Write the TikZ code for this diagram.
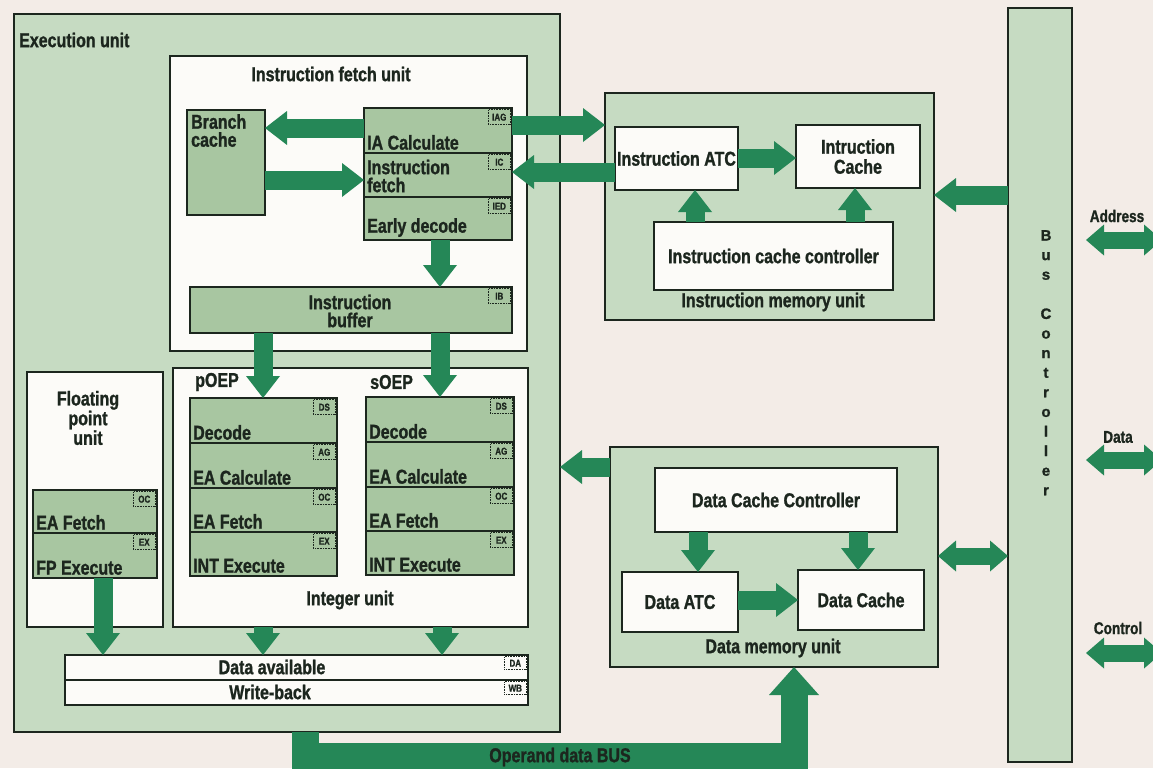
\documentclass[tikz,border=0pt]{standalone}
\usepackage{fontspec}
\setmainfont{Liberation Sans}[FakeStretch=0.8, BoldFeatures={FakeBold=1.2}]
\newfontfamily\busfont{Liberation Sans}[BoldFeatures={FakeBold=1.2}]
\usetikzlibrary{arrows.meta,calc}
\definecolor{bg}{HTML}{F3ECE7}
\definecolor{lg}{HTML}{C6DBC2}
\definecolor{mg}{HTML}{A8C6A1}
\definecolor{wh}{HTML}{FCFBF8}
\definecolor{dg}{HTML}{258757}
\definecolor{bd}{HTML}{1C261E}
\tikzset{
  box/.style={draw=bd, line width=2.7pt, anchor=north west, inner sep=0pt, outer sep=0pt},
  panel/.style={box, fill=lg},
  wbox/.style={box, fill=wh},
  row/.style={box, fill=mg},
  txt/.style={font=\fontsize{20}{18}\selectfont\bfseries, text=bd, inner sep=0pt},
  smalltxt/.style={font=\fontsize{17}{15}\selectfont\bfseries, text=bd, inner sep=0pt},
  rowtxt/.style={txt, anchor=south west, xshift=3pt, yshift=3pt, align=left},
  tag/.style={font=\fontsize{10}{10}\selectfont\bfseries, text=bd, draw=bd, densely dotted, line width=0.6pt, anchor=north east, inner sep=1.5pt, minimum width=22pt, minimum height=15pt, xshift=-1.4pt, yshift=-1.4pt},
  fat/.style={draw=dg, line width=19pt, -{Triangle[width=34pt,length=22pt,line width=0pt]}},
  dfat/.style={draw=dg, line width=17pt, {Triangle[width=31pt,length=18pt,line width=0pt]}-{Triangle[width=31pt,length=18pt,line width=0pt]}},
  busarrow/.style={draw=dg, line width=27pt, line join=miter, -{Triangle[width=50pt,length=28pt,line width=0pt]}},
}
\begin{document}
\begin{tikzpicture}[x=1pt,y=-1pt]
\useasboundingbox (0,0) rectangle (1153,768);
\fill[bg] (0,0) rectangle (1153,768);
\clip (0,0) rectangle (1153,768);

% ---------- Execution unit ----------
\node[panel, minimum width=546pt, minimum height=718pt] (eu) at (14,14) {};
\node[txt, anchor=west] (eul) at (19,40) {Execution unit};

% Instruction fetch unit
\node[wbox, minimum width=357pt, minimum height=295pt] (ifu) at (170,56) {};
\node[txt] (ifut) at (331,74) {Instruction fetch unit};
\node[row, minimum width=78pt, minimum height=105pt] (bc) at (187,110) {};
\node[txt, anchor=north west, align=left] (bct) at (191,114) {Branch\\cache};
\node[row, minimum width=148pt, minimum height=45pt, label={[tag]north east:IAG}, label={[rowtxt]south west:IA Calculate}] (ia) at (364,108) {};
\node[row, minimum width=148pt, minimum height=44pt, label={[tag]north east:IC}] (ifr) at (364,153) {};
\node[txt, anchor=west, align=left] (ifrt) at ([xshift=3pt,yshift=-1pt]ifr.west) {Instruction\\fetch};
\node[row, minimum width=148pt, minimum height=43pt, label={[tag]north east:IED}, label={[rowtxt]south west:Early decode}] (ed) at (364,197) {};
\node[row, minimum width=322pt, minimum height=46pt, label={[tag]north east:IB}] (ib) at (190,287) {};
\node[txt, align=center] (ibt) at (350,311) {Instruction\\buffer};

% Floating point unit
\node[wbox, minimum width=136pt, minimum height=255pt] (fpu) at (27,372) {};
\node[txt, align=center] (fput) at (88,418) {Floating\\point\\unit};
\node[row, minimum width=124pt, minimum height=43pt, label={[tag]north east:OC}, label={[rowtxt]south west:EA Fetch}] (fpf) at (33,490) {};
\node[row, minimum width=124pt, minimum height=45pt, label={[tag]north east:EX}, label={[rowtxt]south west:FP Execute}] (fpx) at (33,533) {};

% Integer unit
\node[wbox, minimum width=355pt, minimum height=259pt] (iu) at (173,368) {};
\node[txt, anchor=west] (poep) at (195,382) {pOEP};
\node[txt, anchor=west] (soep) at (370,382) {sOEP};
\node[txt] (iut) at (350,600) {Integer unit};
\node[row, minimum width=147pt, minimum height=45pt, label={[tag]north east:DS}, label={[rowtxt]south west:Decode}] (pd) at (190,398) {};
\node[row, minimum width=147pt, minimum height=45pt, label={[tag]north east:AG}, label={[rowtxt]south west:EA Calculate}] (pa) at (190,443) {};
\node[row, minimum width=147pt, minimum height=44pt, label={[tag]north east:OC}, label={[rowtxt]south west:EA Fetch}] (pf) at (190,488) {};
\node[row, minimum width=147pt, minimum height=44pt, label={[tag]north east:EX}, label={[rowtxt]south west:INT Execute}] (px) at (190,532) {};
\node[row, minimum width=148pt, minimum height=45pt, label={[tag]north east:DS}, label={[rowtxt]south west:Decode}] (sd) at (366,397) {};
\node[row, minimum width=148pt, minimum height=45pt, label={[tag]north east:AG}, label={[rowtxt]south west:EA Calculate}] (sa) at (366,442) {};
\node[row, minimum width=148pt, minimum height=44pt, label={[tag]north east:OC}, label={[rowtxt]south west:EA Fetch}] (sf) at (366,487) {};
\node[row, minimum width=148pt, minimum height=44pt, label={[tag]north east:EX}, label={[rowtxt]south west:INT Execute}] (sx) at (366,531) {};

% Data available / Write-back
\node[wbox, minimum width=463pt, minimum height=25pt, label={[tag, minimum height=13pt]north east:DA}] (da) at (65,655) {};
\node[wbox, minimum width=463pt, minimum height=25pt, label={[tag, minimum height=13pt]north east:WB}] (wb) at (65,680) {};
\node[txt] (dat) at (272,667) {Data available};
\node[txt] (wbt) at (270,692) {Write-back};

% ---------- Instruction memory unit ----------
\node[panel, minimum width=329pt, minimum height=227pt] (imu) at (605,93) {};
\node[txt] (imut) at (773,302) {Instruction memory unit};
\node[wbox, txt, minimum width=123pt, minimum height=63pt] (iatc) at (615,127) {Instruction ATC};
\node[wbox, txt, align=center, minimum width=124pt, minimum height=63pt, font=\fontsize{20}{20}\selectfont\bfseries] (icache) at (796,125) {Intruction\\Cache};
\node[wbox, txt, minimum width=239pt, minimum height=68pt] (icc) at (654,222) {Instruction cache controller};

% ---------- Data memory unit ----------
\node[panel, minimum width=328pt, minimum height=220pt] (dmu) at (610,447) {};
\node[txt] (dmut) at (773,648) {Data memory unit};
\node[wbox, txt, minimum width=242pt, minimum height=64pt] (dcc) at (655,468) {Data Cache Controller};
\node[wbox, txt, minimum width=116pt, minimum height=60pt] (datc) at (622,572) {Data ATC};
\node[wbox, txt, minimum width=126pt, minimum height=60pt] (dcache) at (798,570) {Data Cache};

% ---------- Bus controller ----------
\node[panel, minimum width=64pt, minimum height=754pt] (bus) at (1008,8) {};
\node[font=\busfont\fontsize{15}{19.6}\selectfont\bfseries, text=bd, align=center, anchor=north, inner sep=0pt] (bust) at (1046,230) {B\\u\\s\\[19.6pt]C\\o\\n\\t\\r\\o\\l\\l\\e\\r};

\node[smalltxt] (adrt) at (1117,216) {Address};
\node[smalltxt] (datat) at (1118,437) {Data};
\node[smalltxt] (ctlt) at (1118,628) {Control};
\coordinate (adrL) at (1086,240); \coordinate (adrR) at (1162,240);
\coordinate (datL) at (1086,460); \coordinate (datR) at (1162,460);
\coordinate (ctlL) at (1086,653); \coordinate (ctlR) at (1162,653);

% ---------- Connectors ----------
\draw[fat] (ia.west |- 0,128) -- (bc.east |- 0,128);
\draw[fat] (bc.east |- 0,180) -- (ifr.west |- 0,180);
\draw[fat] (ia.east |- 0,125) -- (imu.west |- 0,125);
\draw[fat] (iatc.west |- 0,172) -- (ifr.east |- 0,172);
\draw[fat] (440,0 |- ed.south) -- (440,0 |- ib.north);
\draw[fat] (263,0 |- ib.south) -- (263,0 |- pd.north);
\draw[fat] (440,0 |- ib.south) -- (440,0 |- sd.north);
\draw[fat] (103,0 |- fpx.south) -- (103,0 |- da.north);
\draw[fat] (263,0 |- iu.south) -- (263,0 |- da.north);
\draw[fat] (442,0 |- iu.south) -- (442,0 |- da.north);

\draw[fat] (iatc.east |- 0,158) -- (icache.west |- 0,158);
\draw[fat] (695,0 |- icc.north) -- (695,0 |- iatc.south);
\draw[fat] (855,0 |- icc.north) -- (855,0 |- icache.south);
\draw[fat] (bus.west |- 0,195) -- (imu.east |- 0,195);

\draw[fat] (698,0 |- dcc.south) -- (698,0 |- datc.north);
\draw[fat] (858,0 |- dcc.south) -- (858,0 |- dcache.north);
\draw[fat] (datc.east |- 0,600) -- (dcache.west |- 0,600);
\draw[fat] (dmu.west |- 0,467) -- (eu.east |- 0,467);
\draw[dfat] (dmu.east |- 0,556) -- (bus.west |- 0,556);

\draw[dfat] (adrL) -- (adrR);
\draw[dfat] (datL) -- (datR);
\draw[dfat] (ctlL) -- (ctlR);

\draw[busarrow] (305,0 |- eu.south) |- (794,756) -- (794,0 |- dmu.south);
\node[txt] (busl) at (560,757) {Operand data BUS};
\end{tikzpicture}
\end{document}
